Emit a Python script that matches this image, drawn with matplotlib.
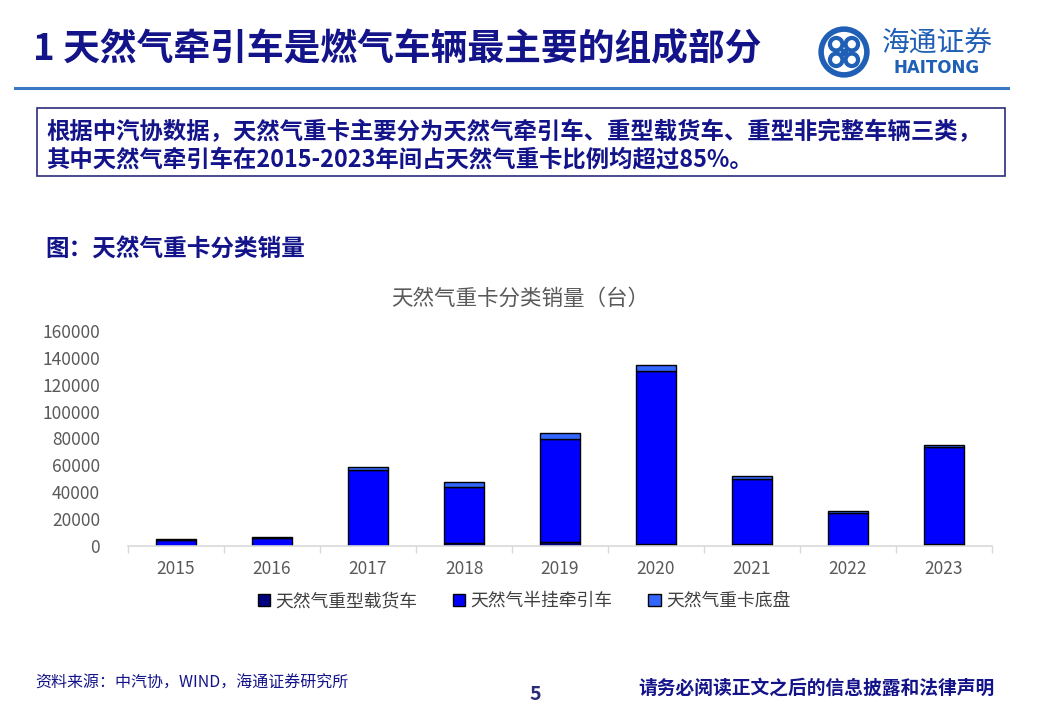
import matplotlib
matplotlib.use('Agg')
import matplotlib.pyplot as plt
import matplotlib.patches as mpatches
import numpy as np

plt.rcParams['font.family'] = ['Noto Sans CJK SC', 'DejaVu Sans']

# data (units: vehicles)
years = ['2015', '2016', '2017', '2018', '2019', '2020', '2021', '2022', '2023']
heavy_truck = [100, 200, 300, 2500, 3300, 1800, 1300, 300, 1300]
tractor = [4600, 6000, 56300, 41400, 76200, 128600, 48400, 23900, 72300]
chassis = [300, 600, 2200, 3500, 4500, 4500, 2200, 1500, 1500]
series_names = ['天然气重型载货车', '天然气半挂牵引车', '天然气重卡底盘']
y_ticks = [0, 20000, 40000, 60000, 80000, 100000, 120000, 140000, 160000]

W, H = 1040, 718
navy = '#14148a'
fig = plt.figure(figsize=(W / 100, H / 100), dpi=100)


def fx(x):
    return x / W


def fy(y):
    return 1 - y / H


# header
fig.text(fx(33), fy(50), '1 天然气牵引车是燃气车辆最主要的组成部分', fontsize=26.5,
         fontweight='bold', color=navy, va='center', ha='left')
fig.add_artist(plt.Line2D([fx(15), fx(1008)], [fy(88), fy(88)], color='#3a78c3', lw=2.2))

# logo
logo_ax = fig.add_axes([fx(818), fy(78), fx(52), 52 / H])
logo_ax.set_xlim(-1, 1)
logo_ax.set_ylim(-1, 1)
logo_ax.set_aspect('equal')
logo_ax.axis('off')
logo_ax.add_patch(mpatches.Circle((0, 0), 0.88, fill=False, ec='#1f5fb5', lw=4))
for dx, dy in [(0.3, 0.3), (-0.3, 0.3), (0.3, -0.3), (-0.3, -0.3)]:
    logo_ax.add_patch(mpatches.Circle((dx, dy), 0.24, fill=False, ec='#1f5fb5', lw=3))
logo_ax.add_patch(mpatches.Rectangle((-0.12, -0.12), 0.24, 0.24, color='#1f5fb5'))
fig.text(fx(937), fy(44), '海通证券', fontsize=20, color='#1f5fb5', style='italic',
         ha='center', va='center')
fig.text(fx(937), fy(68), 'HAITONG', fontsize=12, color='#1f5fb5', fontweight='bold',
         ha='center', va='center', family='DejaVu Sans')

# summary box
fig.add_artist(mpatches.Rectangle((fx(37), fy(176)), fx(968), 68 / H, fill=False,
                                  ec='#2b2b7a', lw=1.2))
fig.text(fx(46), fy(132), '根据中汽协数据，天然气重卡主要分为天然气牵引车、重型载货车、重型非完整车辆三类，',
         fontsize=16.8, fontweight='bold', color=navy, va='center')
fig.text(fx(46), fy(160), '其中天然气牵引车在2015-2023年间占天然气重卡比例均超过85%。',
         fontsize=16.8, fontweight='bold', color=navy, va='center')

fig.text(fx(45), fy(250), '图：天然气重卡分类销量', fontsize=17, fontweight='bold',
         color=navy, va='center')

# chart
ax = fig.add_axes([fx(128), fy(546), fx(864), (546 - 331) / H])
x = np.arange(len(years))
colors = ['#000080', '#0000ff', '#3366ff']
bottom = np.zeros(len(years))
for vals, name, c in zip([heavy_truck, tractor, chassis], series_names, colors):
    ax.bar(x, vals, width=0.41, bottom=bottom, color=c, edgecolor='black', lw=1, label=name)
    bottom += np.array(vals)

ax.set_xlim(-0.5, len(years) - 0.5)
ax.set_ylim(0, 160000)
ax.set_yticks(y_ticks)
ax.set_yticklabels([str(v) for v in y_ticks])
ax.set_xticks(x)
ax.set_xticklabels(years)
ax.set_xticks(np.arange(-0.5, len(years)), minor=True)
ax.tick_params(axis='x', which='major', length=0, pad=10, labelsize=12.5, labelcolor='#595959')
ax.tick_params(axis='x', which='minor', length=5, color='#d9d9d9', width=1)
ax.tick_params(axis='y', length=0, pad=20, labelsize=12.5, labelcolor='#595959')
for s in ['top', 'right', 'left']:
    ax.spines[s].set_visible(False)
ax.spines['bottom'].set_color('#d9d9d9')
ax.spines['bottom'].set_linewidth(1.2)

fig.text(fx(520), fy(299), '天然气重卡分类销量（台）', fontsize=15.5, color='#595959',
         ha='center', va='center')

handles, labels = ax.get_legend_handles_labels()
fig.legend(handles, labels, loc='center', bbox_to_anchor=(fx(524), fy(601)), ncol=3,
           frameon=False, fontsize=12.8, handlelength=0.7, handleheight=0.7,
           handletextpad=0.3, columnspacing=2.0, labelcolor='#404040')

# footer
fig.text(fx(35), fy(683), '资料来源：中汽协，WIND，海通证券研究所', fontsize=11.5, color=navy,
         va='center')
fig.text(fx(535), fy(695), '5', fontsize=14, fontweight='bold', color='#2b2b7a',
         ha='center', va='center')
fig.text(fx(995), fy(688), '请务必阅读正文之后的信息披露和法律声明', fontsize=13.5, fontweight='bold',
         color=navy, ha='right', va='center')

fig.savefig('out.png', dpi=100)
